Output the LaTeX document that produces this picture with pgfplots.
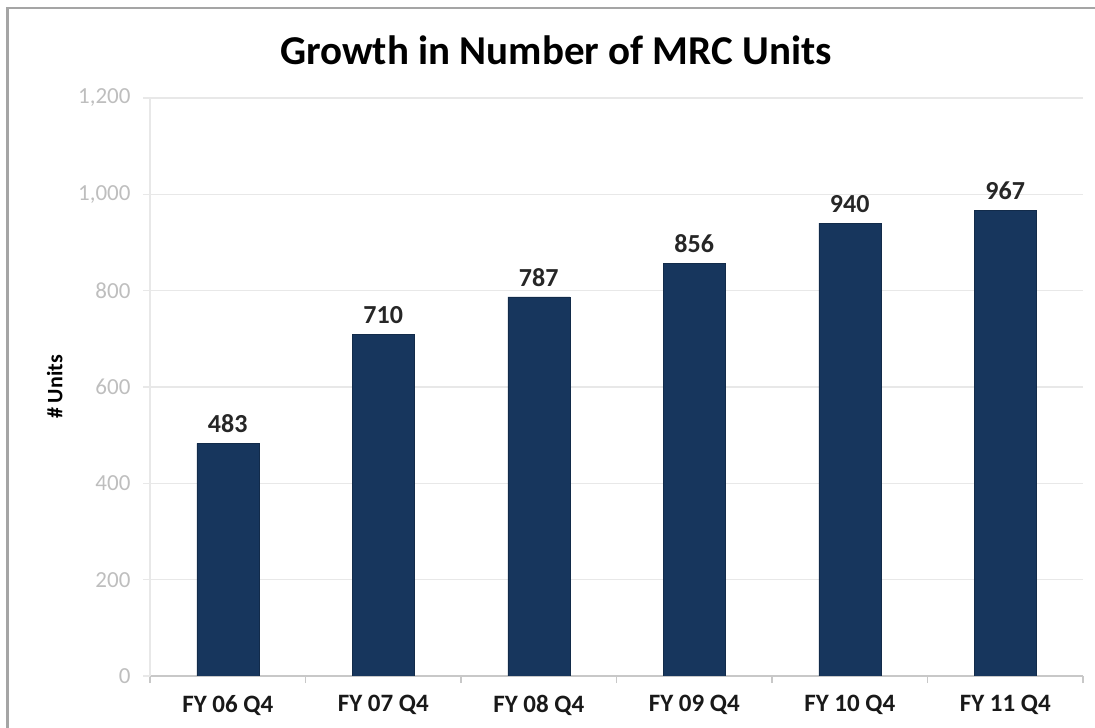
\documentclass[border=0pt]{standalone}
\usepackage{pgfplots}
\pgfplotsset{compat=1.18}
\usepackage{fontspec}
\setmainfont{Carlito}
\definecolor{barblue}{RGB}{23,54,93}
\definecolor{ticktext}{RGB}{190,190,190}
\definecolor{gridc}{RGB}{232,232,232}
\definecolor{axisc}{RGB}{200,200,200}
\definecolor{framec}{RGB}{165,165,165}
\begin{document}
\begin{tikzpicture}[x=1pt,y=1pt]
\useasboundingbox (0,0) rectangle (1095,728);
\draw[framec, line width=2.2pt] (7.5,0) -- (7.5,720) -- (1095,720);
\node[font=\fontsize{41}{44}\selectfont\bfseries, text=black] at (556,678) {Growth in Number of MRC Units};
\begin{axis}[
  at={(150pt,52pt)}, anchor=south west,
  width=933pt, height=578pt, scale only axis,
  xmin=-0.5, xmax=5.5, ymin=0, ymax=1200,
  enlargelimits=false,
  axis x line*=bottom, axis y line*=left,
  x axis line style={draw=axisc, line width=1.2pt, -},
  y axis line style={draw=gridc, line width=1.2pt, -},
  xtick={-0.5,0.5,1.5,2.5,3.5,4.5,5.5},
  x tick label as interval,
  xticklabels={FY 06 Q4,FY 07 Q4,FY 08 Q4,FY 09 Q4,FY 10 Q4,FY 11 Q4},
  ytick={0,200,400,600,800,1000,1200},
  tick align=outside,
  major tick length=7pt,
  x tick style={draw=axisc, line width=1.2pt},
  y tick style={draw=gridc, line width=1.2pt},
  ymajorgrids,
  grid style={draw=gridc, line width=1.2pt},
  /pgf/number format/assume math mode=true,
  /pgf/number format/1000 sep={,},
  yticklabel style={font=\fontsize{23}{23}\selectfont, text=ticktext, xshift=-9pt},
  xticklabel style={font=\fontsize{25}{25}\selectfont\bfseries, text=black!90, yshift=-9pt},
  ylabel={\# Units},
  ylabel style={font=\fontsize{22}{22}\selectfont\bfseries, at={(axis description cs:-0.102,0.5)}, anchor=center},
  ybar, bar width=62pt,
  nodes near coords,
  every node near coord/.append style={font=\fontsize{26}{26}\selectfont\bfseries, text=black!85, yshift=7pt},
]
\addplot[fill=barblue, draw=barblue!80!black] coordinates {(0,483) (1,710) (2,787) (3,856) (4,940) (5,967)};
\end{axis}
\end{tikzpicture}
\end{document}
